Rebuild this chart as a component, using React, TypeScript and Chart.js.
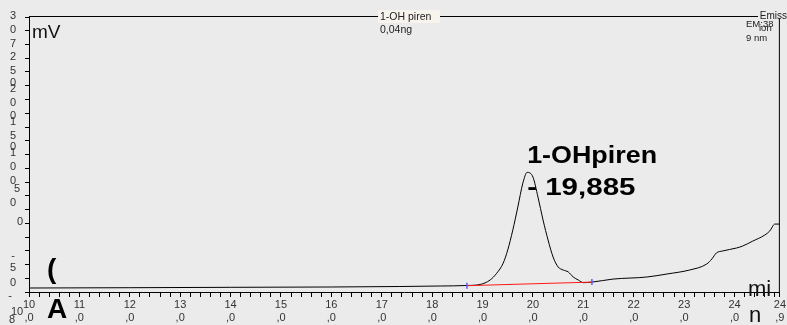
import { useEffect, useRef } from "react";
import { Chart, registerables } from "chart.js";

Chart.register(...registerables);

// Retention time (min) and detector response (mV) of the trace
const retentionTimes = [
  10.0, 12.0, 14.0, 16.0, 17.36, 18.16, 18.69, 18.95, 19.15, 19.28, 19.41, 19.5,
  19.6, 19.7, 19.8, 19.885, 20.0, 20.1, 20.2, 20.3, 20.4, 20.5, 20.6, 20.7, 20.8,
  20.9, 21.0, 21.17, 21.59, 22.26, 22.66, 23.11, 23.45, 23.55, 23.64, 23.76,
  24.04, 24.16, 24.36, 24.6, 24.7, 24.8, 24.9,
];
const signal = [
  1.45, 1.56, 1.7, 1.82, 2.0, 2.18, 2.36, 2.73, 4.36, 6.8, 10.5, 15.3, 22.5,
  30.9, 39.6, 43.5, 41.8, 34.5, 26.2, 18.9, 12.7, 9.1, 8.0, 7.3, 5.45, 4.36,
  3.4, 3.6, 4.7, 5.45, 6.55, 8.0, 10.2, 12.0, 14.2, 14.9, 16.0, 16.7, 18.5,
  20.7, 22.2, 24.7, 24.7,
];

// Integration baseline of the peak (start / end)
const baselineTimes = [18.69, 21.17];
const baselineValues = [2.3, 3.6];

// Peak annotation
const peakName = "1-OHpiren";
const peakTime = 19.885;

// Axis ranges
const timeMin = 10.0;
const timeMax = 24.9;
const mvMin = 0;
const mvMax = 100;

// Vertical axis glyph column: [text, axis value, horizontal nudge]
const yAxisGlyphs: [string, number, number][] = [
  ["3", 100.4, 0], ["0", 95.3, 0], ["7", 90.2, 0], ["2", 85.5, 0],
  ["5", 80.4, 0], ["0", 76.0, 0], ["2", 73.8, 0], ["0", 68.7, 0],
  ["0", 64.0, 0], ["1", 61.8, 0], ["5", 56.7, 0], ["0", 52.7, 0],
  ["1", 50.5, 0], ["0", 45.5, 0], ["0", 40.4, 0], ["5", 37.5, 4],
  ["0", 32.4, 0], ["0", 25.5, 7], ["-", 13.1, 0], ["5", 8.7, 0],
  ["0", 3.3, 0], ["-", -1.5, -3], ["10", -7.3, 4], ["8", -10.2, -1],
];

const xTickValues: number[] = [];
for (let i = 0; i <= 74; i++) xTickValues.push(Math.round((timeMin + i * 0.2) * 10) / 10);
xTickValues.push(timeMax);

const SANS = '"Liberation Sans", Arial, sans-serif';

const decorPlugin = {
  id: "decor",
  beforeDraw(chart: any) {
    const { ctx, width, height } = chart;
    ctx.save();
    ctx.fillStyle = "#ebebeb";
    ctx.fillRect(0, 0, width, height);
    ctx.restore();
  },
  afterDraw(chart: any) {
    const { ctx, chartArea } = chart;
    const yScale = chart.scales.y;
    const xScale = chart.scales.x;
    const top = chartArea.top;
    ctx.save();

    // frame: top and right
    ctx.strokeStyle = "#000";
    ctx.lineWidth = 1;
    ctx.beginPath();
    ctx.moveTo(chartArea.left, top - 0.5);
    ctx.lineTo(758, top - 0.5);
    ctx.moveTo(chartArea.right - 0.5, top + 1);
    ctx.lineTo(chartArea.right - 0.5, chartArea.bottom);
    ctx.stroke();

    // trace title box
    ctx.fillStyle = "#f7f4ee";
    ctx.fillRect(378, top - 7, 62, 13);
    ctx.fillStyle = "#222";
    ctx.font = `10.5px ${SANS}`;
    ctx.textBaseline = "middle";
    ctx.textAlign = "left";
    ctx.fillText("1-OH piren", 380, top);
    ctx.fillText("0,04ng", 380, top + 13);

    // detector info, top right
    ctx.font = `10px ${SANS}`;
    ctx.textAlign = "right";
    ctx.fillText("Emiss", 787, top - 1);
    ctx.textAlign = "left";
    ctx.font = `9.5px ${SANS}`;
    ctx.fillText("EM:38", 746, top + 7);
    ctx.fillText("ion", 759, top + 11);
    ctx.fillText("9 nm", 746, top + 21);

    // unit labels
    ctx.fillStyle = "#111";
    ctx.textBaseline = "alphabetic";
    ctx.font = `19px ${SANS}`;
    ctx.fillText("mV", 32, 38);
    ctx.font = `22px ${SANS}`;
    ctx.fillText("mi", 748, 296);
    ctx.fillText("n", 749, 322);

    // vertical axis glyphs
    ctx.fillStyle = "#333";
    ctx.font = `11px ${SANS}`;
    ctx.textAlign = "center";
    ctx.textBaseline = "middle";
    for (const [t, v, dx] of yAxisGlyphs) {
      ctx.fillText(t, 13 + dx, yScale.getPixelForValue(v));
    }

    // panel marker
    ctx.fillStyle = "#000";
    ctx.font = `bold 28px ${SANS}`;
    ctx.textAlign = "left";
    ctx.textBaseline = "alphabetic";
    ctx.fillText("(", 47, 278);
    ctx.fillText("A", 47, 318);

    // peak annotation
    const px = xScale.getPixelForValue(peakTime);
    const peakIdx = retentionTimes.indexOf(peakTime);
    const py = yScale.getPixelForValue(signal[peakIdx]);
    ctx.font = `bold 24px ${SANS}`;
    ctx.fillStyle = "#000";
    ctx.save();
    ctx.translate(px, py);
    ctx.scale(1.12, 1);
    ctx.fillText(peakName, 0, -9);
    ctx.restore();
    ctx.save();
    ctx.translate(px, py);
    ctx.scale(1.23, 1);
    ctx.fillText("- " + peakTime.toFixed(3).replace(".", ","), 0, 23);
    ctx.restore();

    ctx.restore();
  },
};

export default function App() {
  const canvasRef = useRef<HTMLCanvasElement | null>(null);

  useEffect(() => {
    document.body.style.margin = "0";
    const canvas = canvasRef.current;
    if (!canvas) return;

    const trace = retentionTimes.map((t, i) => ({ x: t, y: signal[i] }));
    const baseline = baselineTimes.map((t, i) => ({ x: t, y: baselineValues[i] }));

    const chart = new Chart(canvas, {
      type: "line",
      data: {
        datasets: [
          {
            type: "scatter",
            data: baseline,
            pointStyle: "line",
            rotation: 90,
            radius: 3,
            borderColor: "#5a5cff",
            backgroundColor: "#5a5cff",
            borderWidth: 1.5,
            order: 0,
          } as any,
          {
            data: baseline,
            borderColor: "#ff1a1a",
            borderWidth: 1,
            pointRadius: 0,
            order: 1,
          },
          {
            data: trace,
            borderColor: "#000",
            borderWidth: 1,
            pointRadius: 0,
            cubicInterpolationMode: "monotone",
            order: 2,
          },
        ],
      },
      options: {
        animation: false,
        responsive: false,
        devicePixelRatio: 1,
        layout: { padding: { top: 17, right: 1, left: 0, bottom: 0 } },
        plugins: { legend: { display: false }, tooltip: { enabled: false } },
        scales: {
          x: {
            type: "linear",
            min: timeMin,
            max: timeMax,
            afterBuildTicks(scale: any) {
              scale.ticks = xTickValues.map((v) => ({ value: v }));
            },
            afterFit(scale: any) {
              scale.height = 33;
            },
            ticks: {
              autoSkip: false,
              maxRotation: 0,
              minRotation: 0,
              padding: 1,
              color: "#333",
              font: { family: SANS, size: 11 },
              callback(value: any) {
                const v = Number(value);
                const isMajor = Math.abs(v - Math.round(v)) < 1e-6 || v === timeMax;
                if (!isMajor) return "";
                const [a, b] = v.toFixed(1).split(".");
                return [a, "," + b];
              },
            },
            grid: { drawOnChartArea: false, tickLength: 5, color: "#000" },
            border: { color: "#000" },
          },
          y: {
            min: mvMin,
            max: mvMax,
            afterFit(scale: any) {
              scale.width = 29;
            },
            ticks: { display: false, stepSize: 5 },
            grid: { drawOnChartArea: false, tickLength: 4, color: "#000" },
            border: { color: "#000" },
          },
        },
      },
      plugins: [decorPlugin],
    });

    return () => chart.destroy();
  }, []);

  return <canvas ref={canvasRef} width={787} height={325} style={{ display: "block" }} />;
}
